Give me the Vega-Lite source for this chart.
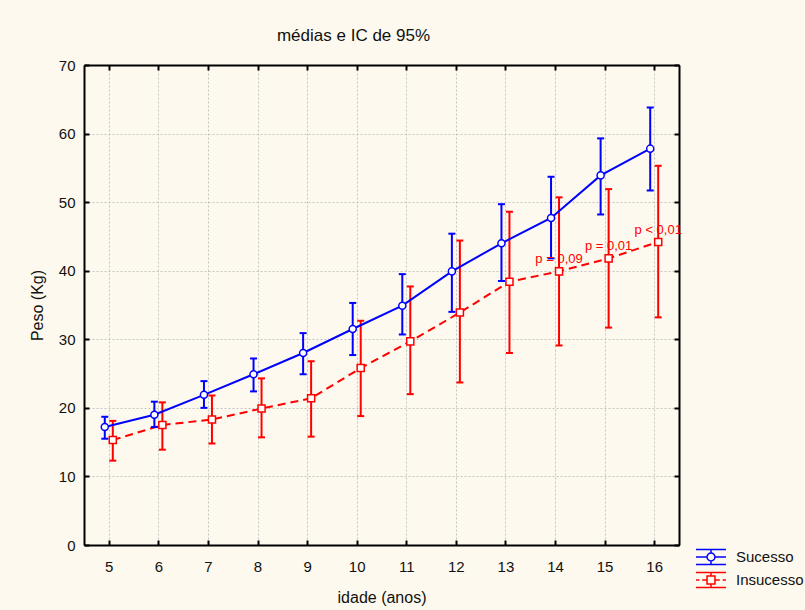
{
  "$schema": "https://vega.github.io/schema/vega-lite/v6.json",
  "autosize": {"type": "none"},
  "width": 595,
  "height": 480,
  "padding": {"left": 84, "top": 65, "right": 126, "bottom": 65},
  "background": "#FDF9EE",
  "title": {
    "text": "médias e IC de 95%",
    "fontSize": 17,
    "font": "Liberation Sans",
    "fontWeight": "normal",
    "color": "#111111",
    "anchor": "middle",
    "dx": -28,
    "offset": 13
  },
  "datasets": {
    "d": [
      {"idade": 5, "grupo": "Sucesso", "media": 17.2, "inf": 15.5, "sup": 18.7},
      {"idade": 6, "grupo": "Sucesso", "media": 19.0, "inf": 17.2, "sup": 20.9},
      {"idade": 7, "grupo": "Sucesso", "media": 21.9, "inf": 20.0, "sup": 23.9},
      {"idade": 8, "grupo": "Sucesso", "media": 24.9, "inf": 22.4, "sup": 27.2},
      {"idade": 9, "grupo": "Sucesso", "media": 28.0, "inf": 24.9, "sup": 30.9},
      {"idade": 10, "grupo": "Sucesso", "media": 31.5, "inf": 27.7, "sup": 35.3},
      {"idade": 11, "grupo": "Sucesso", "media": 34.9, "inf": 30.7, "sup": 39.5},
      {"idade": 12, "grupo": "Sucesso", "media": 39.9, "inf": 34.0, "sup": 45.4},
      {"idade": 13, "grupo": "Sucesso", "media": 44.0, "inf": 38.5, "sup": 49.7},
      {"idade": 14, "grupo": "Sucesso", "media": 47.7, "inf": 41.8, "sup": 53.7},
      {"idade": 15, "grupo": "Sucesso", "media": 53.9, "inf": 48.2, "sup": 59.3},
      {"idade": 16, "grupo": "Sucesso", "media": 57.8, "inf": 51.7, "sup": 63.8},
      {"idade": 5, "grupo": "Insucesso", "media": 15.3, "inf": 12.3, "sup": 18.1},
      {"idade": 6, "grupo": "Insucesso", "media": 17.5, "inf": 13.9, "sup": 20.8},
      {"idade": 7, "grupo": "Insucesso", "media": 18.3, "inf": 14.8, "sup": 21.8},
      {"idade": 8, "grupo": "Insucesso", "media": 19.9, "inf": 15.7, "sup": 24.3},
      {"idade": 9, "grupo": "Insucesso", "media": 21.4, "inf": 15.8, "sup": 26.8},
      {"idade": 10, "grupo": "Insucesso", "media": 25.8, "inf": 18.8, "sup": 32.7},
      {"idade": 11, "grupo": "Insucesso", "media": 29.7, "inf": 22.0, "sup": 37.7},
      {"idade": 12, "grupo": "Insucesso", "media": 33.9, "inf": 23.7, "sup": 44.4},
      {"idade": 13, "grupo": "Insucesso", "media": 38.4, "inf": 28.0, "sup": 48.6},
      {"idade": 14, "grupo": "Insucesso", "media": 39.9, "inf": 29.1, "sup": 50.7, "p": "p = 0,09"},
      {"idade": 15, "grupo": "Insucesso", "media": 41.8, "inf": 31.7, "sup": 51.9, "p": "p = 0,01"},
      {"idade": 16, "grupo": "Insucesso", "media": 44.2, "inf": 33.2, "sup": 55.3, "p": "p < 0,01"}
    ]
  },
  "data": {"name": "d"},
  "resolve": {"axis": {"x": "independent", "y": "independent"}},
  "layer": [
    {
      "transform": [{"filter": "datum.grupo == 'Insucesso'"}],
      "mark": {"type": "line", "color": "#FF0000", "strokeWidth": 2, "strokeDash": [8, 5], "xOffset": 4},
      "encoding": {
        "x": {"field": "idade", "type": "quantitative",
              "scale": {"domain": [4.5, 16.5], "nice": false, "zero": false},
              "axis": {"orient": "bottom", "values": [5,6,7,8,9,10,11,12,13,14,15,16], "title": "idade (anos)",
                       "tickSize": -5, "labelPadding": 19, "titlePadding": 15, "grid": true}},
        "y": {"field": "media", "type": "quantitative",
              "scale": {"domain": [0, 70], "nice": false, "zero": true},
              "axis": {"orient": "left", "values": [0,10,20,30,40,50,60,70], "title": "Peso (Kg)",
                       "tickSize": -5, "labelPadding": 14, "titlePadding": 13, "grid": true}}
      }
    },
    {
      "transform": [{"filter": "datum.grupo == 'Insucesso'"}],
      "mark": {"type": "rule", "color": "#FF0000", "strokeWidth": 2, "xOffset": 4},
      "encoding": {
        "x": {"field": "idade", "type": "quantitative", "axis": null},
        "y": {"field": "inf", "type": "quantitative", "axis": null},
        "y2": {"field": "sup"}
      }
    },
    {
      "transform": [{"filter": "datum.grupo == 'Insucesso'"}],
      "mark": {"type": "tick", "orient": "horizontal", "color": "#FF0000", "size": 7, "thickness": 2, "opacity": 1, "xOffset": 4},
      "encoding": {
        "x": {"field": "idade", "type": "quantitative", "axis": null},
        "y": {"field": "inf", "type": "quantitative", "axis": null}
      }
    },
    {
      "transform": [{"filter": "datum.grupo == 'Insucesso'"}],
      "mark": {"type": "tick", "orient": "horizontal", "color": "#FF0000", "size": 7, "thickness": 2, "opacity": 1, "xOffset": 4},
      "encoding": {
        "x": {"field": "idade", "type": "quantitative", "axis": null},
        "y": {"field": "sup", "type": "quantitative", "axis": null}
      }
    },
    {
      "transform": [{"filter": "datum.grupo == 'Insucesso'"}],
      "mark": {"type": "point", "shape": "square", "filled": true, "fill": "white", "stroke": "#FF0000", "strokeWidth": 1.5, "size": 50, "opacity": 1, "xOffset": 4},
      "encoding": {
        "x": {"field": "idade", "type": "quantitative", "axis": null},
        "y": {"field": "media", "type": "quantitative", "axis": null}
      }
    },
    {
      "transform": [{"filter": "datum.grupo == 'Sucesso'"}],
      "mark": {"type": "line", "color": "#0000FF", "strokeWidth": 2, "xOffset": -4},
      "encoding": {
        "x": {"field": "idade", "type": "quantitative", "axis": null},
        "y": {"field": "media", "type": "quantitative", "axis": null}
      }
    },
    {
      "transform": [{"filter": "datum.grupo == 'Sucesso'"}],
      "mark": {"type": "rule", "color": "#0000FF", "strokeWidth": 2, "xOffset": -4},
      "encoding": {
        "x": {"field": "idade", "type": "quantitative", "axis": null},
        "y": {"field": "inf", "type": "quantitative", "axis": null},
        "y2": {"field": "sup"}
      }
    },
    {
      "transform": [{"filter": "datum.grupo == 'Sucesso'"}],
      "mark": {"type": "tick", "orient": "horizontal", "color": "#0000FF", "size": 7, "thickness": 2, "opacity": 1, "xOffset": -4},
      "encoding": {
        "x": {"field": "idade", "type": "quantitative", "axis": null},
        "y": {"field": "inf", "type": "quantitative", "axis": null}
      }
    },
    {
      "transform": [{"filter": "datum.grupo == 'Sucesso'"}],
      "mark": {"type": "tick", "orient": "horizontal", "color": "#0000FF", "size": 7, "thickness": 2, "opacity": 1, "xOffset": -4},
      "encoding": {
        "x": {"field": "idade", "type": "quantitative", "axis": null},
        "y": {"field": "sup", "type": "quantitative", "axis": null}
      }
    },
    {
      "transform": [{"filter": "datum.grupo == 'Sucesso'"}],
      "mark": {"type": "point", "shape": "circle", "filled": true, "fill": "white", "stroke": "#0000FF", "strokeWidth": 1.5, "size": 50, "opacity": 1, "xOffset": -4},
      "encoding": {
        "x": {"field": "idade", "type": "quantitative", "axis": null},
        "y": {"field": "media", "type": "quantitative", "axis": null}
      }
    },
    {
      "transform": [{"filter": "isValid(datum.p)"}],
      "mark": {"type": "text", "color": "#FF0000", "font": "Liberation Sans", "fontSize": 13, "align": "center", "baseline": "alphabetic", "dy": -8, "xOffset": 4},
      "encoding": {
        "x": {"field": "idade", "type": "quantitative", "axis": null},
        "y": {"field": "media", "type": "quantitative", "axis": null},
        "text": {"field": "p"}
      }
    },
    {
      "mark": {"type": "point", "filled": false, "opacity": 0},
      "encoding": {
        "color": {"field": "grupo", "type": "nominal",
                  "scale": {"domain": ["Sucesso", "Insucesso"], "range": ["#0000FF", "#FF0000"]},
                  "legend": {"title": null, "orient": "none", "legendX": 615, "legendY": 480,
                             "rowPadding": 0, "labelOffset": 13, "labelFontSize": 15, "labelFont": "Liberation Sans",
                             "labelColor": "#111111", "symbolSize": 484,
                             "encode": {"symbols": {"update": {"opacity": {"value": 1}, "fill": {"value": "white"}, "strokeWidth": {"value": 2}}}}}},
        "shape": {"field": "grupo", "type": "nominal",
                  "scale": {"domain": ["Sucesso", "Insucesso"],
                            "range": ["M-1.36,-0.68H1.36M-1.36,0.68H1.36M0,-0.68V-0.36M0,0.36V0.68M-1.36,0H-0.36M0.36,0H1.36M-0.36,0A0.36,0.36 0 1,0 0.36,0A0.36,0.36 0 1,0 -0.36,0",
                                      "M-1.36,-0.68H1.36M-1.36,0.68H1.36M0,-0.68V-0.36M0,0.36V0.68M-1.36,0H-1.06M-0.8,0H-0.36M0.36,0H0.8M1.06,0H1.36M-0.36,-0.36H0.36V0.36H-0.36Z"]}}
      }
    },
    {
      "mark": {"type": "point", "opacity": 0},
      "encoding": {
        "x": {"field": "idade", "type": "quantitative",
              "axis": {"orient": "top", "values": [5,6,7,8,9,10,11,12,13,14,15,16], "title": null, "labels": false, "tickSize": -5, "grid": false}},
        "y": {"field": "media", "type": "quantitative",
              "axis": {"orient": "right", "values": [0,10,20,30,40,50,60,70], "title": null, "labels": false, "tickSize": -5, "grid": false}}
      }
    }
  ],
  "config": {
    "view": {"fill": "white", "stroke": "black", "strokeWidth": 1},
    "axis": {
      "domainColor": "black", "domainWidth": 2, "tickColor": "black", "tickWidth": 2,
      "labelFont": "Liberation Sans", "labelFontSize": 15, "labelColor": "#111111",
      "titleFont": "Liberation Sans", "titleFontSize": 16, "titleFontWeight": "normal", "titleColor": "#111111",
      "gridColor": "#c4c4c4", "gridDash": [2, 2], "gridWidth": 1
    }
  }
}
